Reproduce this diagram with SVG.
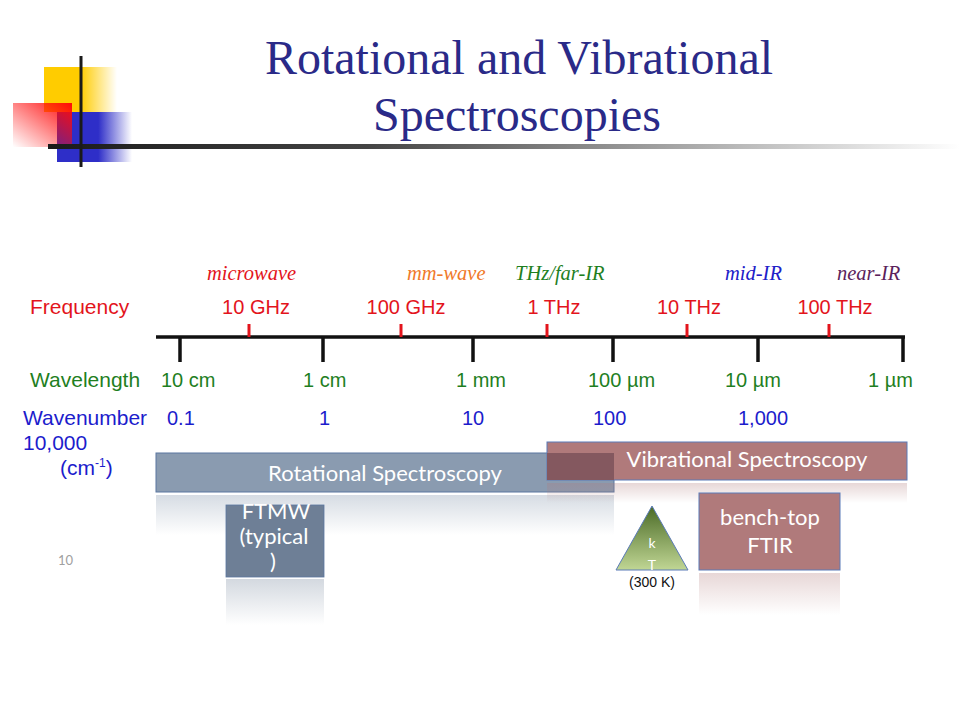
<svg xmlns="http://www.w3.org/2000/svg" width="960" height="720" viewBox="0 0 960 720">
<style>
.title{font-family:"Liberation Serif","Times New Roman",serif;font-size:48px;fill:#2a2a88;text-anchor:middle}
.lbl{font-family:"Liberation Sans",Arial,sans-serif;font-size:20px}
.big{font-size:21px}
.mid{text-anchor:middle}
.red{fill:#e3141c}
.grn{fill:#1f7f1f}
.blu{fill:#1c1ccc}
.reg{font-family:"Liberation Serif","Times New Roman",serif;font-style:italic;font-size:20.5px}
.box{font-family:Lato,"Open Sans",sans-serif;fill:#fff;text-anchor:middle}
.tick{stroke:#111;stroke-width:3.5}
.rtick{stroke:#e3141c;stroke-width:3}
</style>
<defs>
<linearGradient id="gYel" x1="0" y1="0" x2="1" y2="0"><stop offset="0" stop-color="#ffcc00"/><stop offset="0.5" stop-color="#ffcc00"/><stop offset="1" stop-color="#ffcc00" stop-opacity="0"/></linearGradient>
<linearGradient id="gBlu" x1="0" y1="0" x2="1" y2="0"><stop offset="0" stop-color="#2e2ec8"/><stop offset="0.55" stop-color="#2e2ec8"/><stop offset="1" stop-color="#2e2ec8" stop-opacity="0"/></linearGradient>
<linearGradient id="gRed" x1="1" y1="0" x2="0" y2="1"><stop offset="0" stop-color="#ff0a0a"/><stop offset="1" stop-color="#ff0a0a" stop-opacity="0"/></linearGradient>
<linearGradient id="gBar" x1="0" y1="0" x2="1" y2="0"><stop offset="0" stop-color="#1a1a1a"/><stop offset="0.35" stop-color="#444"/><stop offset="1" stop-color="#ffffff"/></linearGradient>
<linearGradient id="gTri" x1="0" y1="0" x2="0" y2="1"><stop offset="0" stop-color="#4a6a26"/><stop offset="1" stop-color="#c0d694"/></linearGradient>
<linearGradient id="rSlate" x1="0" y1="0" x2="0" y2="1"><stop offset="0" stop-color="#8a9bb0" stop-opacity="0.35"/><stop offset="1" stop-color="#8a9bb0" stop-opacity="0"/></linearGradient>
<linearGradient id="rDark" x1="0" y1="0" x2="0" y2="1"><stop offset="0" stop-color="#6e7f96" stop-opacity="0.3"/><stop offset="1" stop-color="#6e7f96" stop-opacity="0"/></linearGradient>
<linearGradient id="rRose" x1="0" y1="0" x2="0" y2="1"><stop offset="0" stop-color="#b07a7a" stop-opacity="0.3"/><stop offset="1" stop-color="#b07a7a" stop-opacity="0"/></linearGradient>
</defs>
<rect width="960" height="720" fill="#fff"/>

<g id="decoration">
<rect x="44" y="67" width="73" height="45" fill="url(#gYel)"/>
<rect x="57" y="112" width="75" height="50" fill="url(#gBlu)"/>
<rect x="13" y="103" width="59" height="44" fill="url(#gRed)"/>
<rect x="48" y="144" width="912" height="5" fill="url(#gBar)"/>
<rect x="79.5" y="56" width="3" height="111" fill="#1a1a1a"/>
</g>

<g id="title">
<text class="title" x="519" y="74">Rotational  and Vibrational</text>
<text class="title" x="517" y="131">Spectroscopies</text>
</g>

<g id="region-labels" class="reg">
<text x="207" y="280" fill="#e3141c">microwave</text>
<text x="407" y="280" fill="#f07a2a">mm-wave</text>
<text x="515" y="280" fill="#1f7f1f">THz/far-IR</text>
<text x="725" y="280" fill="#2020c8">mid-IR</text>
<text x="837" y="280" fill="#5c1f5c">near-IR</text>
</g>

<g id="axis">
<line x1="156" y1="337" x2="905" y2="337" stroke="#111" stroke-width="3.5"/>
<line class="tick" x1="180" y1="337" x2="180" y2="362"/>
<line class="tick" x1="323" y1="337" x2="323" y2="362"/>
<line class="tick" x1="473" y1="337" x2="473" y2="362"/>
<line class="tick" x1="613" y1="337" x2="613" y2="362"/>
<line class="tick" x1="758" y1="337" x2="758" y2="362"/>
<line class="tick" x1="903" y1="337" x2="903" y2="362"/>
<line class="rtick" x1="249" y1="324" x2="249" y2="337"/>
<line class="rtick" x1="401" y1="324" x2="401" y2="337"/>
<line class="rtick" x1="547" y1="324" x2="547" y2="337"/>
<line class="rtick" x1="687" y1="324" x2="687" y2="337"/>
<line class="rtick" x1="829" y1="324" x2="829" y2="337"/>
</g>

<g id="frequency" class="lbl red">
<text class="big" x="30" y="314">Frequency</text>
<text class="mid" x="256" y="314">10 GHz</text>
<text class="mid" x="406" y="314">100 GHz</text>
<text class="mid" x="554" y="314">1 THz</text>
<text class="mid" x="689" y="314">10 THz</text>
<text class="mid" x="835" y="314">100 THz</text>
</g>

<g id="wavelength" class="lbl grn">
<text class="big" x="30" y="387">Wavelength</text>
<text x="161" y="387">10 cm</text>
<text x="303" y="387">1 cm</text>
<text x="456" y="387">1 mm</text>
<text x="588" y="387">100 µm</text>
<text x="725" y="387">10 µm</text>
<text x="868" y="387">1 µm</text>
</g>

<g id="wavenumber" class="lbl blu">
<text class="big" x="23" y="425">Wavenumber</text>
<text x="167" y="425">0.1</text>
<text x="319" y="425">1</text>
<text x="462" y="425">10</text>
<text x="593" y="425">100</text>
<text x="738" y="425">1,000</text>
<text class="big" x="23" y="450">10,000</text>
<text class="big" x="60" y="475">(cm<tspan font-size="12" dy="-8">-1</tspan><tspan dy="8">)</tspan></text>
</g>

<text x="58" y="565" font-family="Lato,'Open Sans',sans-serif" font-size="13" fill="#a0a0a0">10</text>

<g id="rotational">
<rect x="156" y="453" width="458" height="39" fill="#8a9bb0" stroke="#5b77a0" stroke-width="1"/>
<rect x="156" y="495" width="458" height="40" fill="url(#rSlate)"/>
<text class="box" x="385" y="481" font-size="22">Rotational Spectroscopy</text>
</g>

<g id="vibrational">
<rect x="547" y="442" width="360" height="38" fill="#b07a7b" stroke="#5a7ab8" stroke-width="1"/>
<rect x="547" y="453" width="67" height="27" fill="#84585f"/>
<rect x="547" y="483" width="360" height="20" fill="url(#rRose)"/>
<text class="box" x="747" y="467" font-size="22">Vibrational Spectroscopy</text>
</g>

<g id="ftmw">
<rect x="226" y="505" width="98" height="72" fill="#6e7f96" stroke="#5b77a0" stroke-width="0.8"/>
<rect x="226" y="579" width="98" height="46" fill="url(#rDark)"/>
<text class="box" x="276" y="519" font-size="22">FTMW</text>
<text class="box" x="274" y="544" font-size="22">(typical</text>
<text class="box" x="273" y="569" font-size="22">)</text>
</g>

<g id="kt">
<polygon points="652,506 616,570 688,570" fill="url(#gTri)" stroke="#5a7ab8" stroke-width="1"/>
<text class="box" x="652" y="548" font-size="14">k</text>
<text class="box" x="652" y="570" font-size="14">T</text>
<text x="652" y="587" font-family="'Liberation Sans',Arial,sans-serif" font-size="14" fill="#111" text-anchor="middle">(300 K)</text>
</g>

<g id="ftir">
<rect x="699" y="493" width="141" height="77" fill="#b07a7b" stroke="#5a7ab8" stroke-width="1"/>
<rect x="699" y="573" width="141" height="42" fill="url(#rRose)"/>
<text class="box" x="770" y="525" font-size="22">bench-top</text>
<text class="box" x="770" y="553" font-size="22">FTIR</text>
</g>
</svg>
